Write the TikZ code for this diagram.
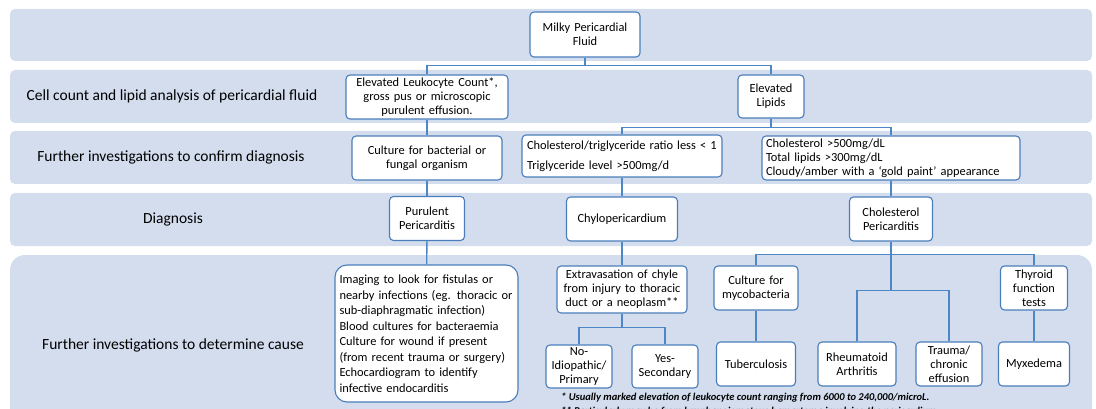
\documentclass[tikz,border=0pt]{standalone}
\usepackage{fontspec}
\setmainfont{Carlito}
\definecolor{band}{HTML}{D3DDEE}
\definecolor{boxblue}{HTML}{4A7EBB}
\definecolor{lineblue}{HTML}{4F86C6}
\tikzset{
  bandfill/.style={fill=band, draw=none},
  lbl/.style={font=\fontsize{15.5}{18}\selectfont, anchor=center},
  bx/.style={draw=boxblue, fill=white, rounded corners=4pt, line width=1.1pt,
     inner xsep=2pt, inner ysep=1pt, align=center,
     font=\fontsize{12.4}{14}\selectfont},
  conn/.style={draw=lineblue, line width=1.3pt},
  foot/.style={font=\fontsize{10.5}{12}\selectfont\bfseries\itshape, anchor=west, inner sep=0pt}
}
\begin{document}
\begin{tikzpicture}[x=1pt,y=-1pt]
\useasboundingbox (0,0) rectangle (1096,409);
% bands
\fill[bandfill, rounded corners=5pt] (10,9) rectangle (1092,61);
\fill[bandfill, rounded corners=5pt] (10,70) rectangle (1092,123);
\fill[bandfill, rounded corners=5pt] (10,131) rectangle (1092,184);
\fill[bandfill, rounded corners=5pt] (10,193) rectangle (1092,246);
\fill[bandfill, rounded corners=15pt] (10,255) rectangle (1092,430);
% left labels
\node[lbl] (l2) at (172,96) {Cell count and lipid analysis of pericardial fluid};
\node[lbl] (l3) at (171,157) {Further investigations to confirm diagnosis};
\node[lbl] (l4) at (173,219) {Diagnosis};
\node[lbl] (l5) at (173,345) {Further investigations to determine cause};
% nodes
\node[bx, minimum width=110pt, text width=106pt, minimum height=45pt] (milky) at (585,34.5) {Milky Pericardial\\Fluid};
\node[bx, minimum width=162pt, text width=158pt, minimum height=44pt] (leuk) at (427,97) {Elevated Leukocyte Count*,\\gross pus or microscopic\\purulent effusion.};
\node[bx, minimum width=66pt, text width=62pt, minimum height=43pt] (lipids) at (771,96.5) {Elevated\\Lipids};
\node[bx, minimum width=150pt, text width=146pt, minimum height=44pt] (culture) at (427,158) {Culture for bacterial or\\fungal organism};
\node[bx, minimum width=200pt, text width=190pt, inner xsep=5pt, minimum height=42pt, align=left, font=\fontsize{12.4}{20}\selectfont] (ratio) at (622,156) {Cholesterol/triglyceride ratio less < 1\\Triglyceride level >500mg/d};
\node[bx, minimum width=258pt, text width=250pt, inner xsep=4pt, minimum height=44pt, align=left, font=\fontsize{12.4}{14}\selectfont] (chol) at (891,158) {Cholesterol >500mg/dL\\Total lipids >300mg/dL\\Cloudy/amber with a ‘gold paint’ appearance};
\node[bx, minimum width=75pt, text width=71pt, minimum height=44pt] (purulent) at (427,218.5) {Purulent\\Pericarditis};
\node[bx, minimum width=111pt, text width=107pt, minimum height=44pt] (chylo) at (622,219) {Chylopericardium};
\node[bx, minimum width=83pt, text width=79pt, minimum height=44pt] (cholper) at (891,219) {Cholesterol\\Pericarditis};
\node[bx, rounded corners=12pt, minimum width=183pt, text width=174pt, inner xsep=4.5pt, minimum height=137pt, align=left, font=\fontsize{12.4}{15.5}\selectfont] (imaging) at (426.5,333.5) {Imaging to look for fistulas or\\nearby infections (eg. thoracic or\\sub-diaphragmatic infection)\\Blood cultures for bacteraemia\\Culture for wound if present\\(from recent trauma or surgery)\\Echocardiogram to identify\\infective endocarditis};
\node[bx, minimum width=130pt, text width=126pt, minimum height=47pt] (extrav) at (622,289.5) {Extravasation of chyle\\from injury to thoracic\\duct or a neoplasm**};
\node[bx, minimum width=84pt, text width=80pt, minimum height=44pt] (myco) at (756,288) {Culture for\\mycobacteria};
\node[bx, minimum width=67pt, text width=63pt, minimum height=44pt] (thyroid) at (1034,288) {Thyroid\\function\\tests};
\node[bx, minimum width=66pt, text width=62pt, minimum height=43pt] (noidio) at (579,366.5) {No-\\Idiopathic/\\Primary};
\node[bx, minimum width=66pt, text width=62pt, minimum height=43pt] (yes) at (665,366.5) {Yes-\\Secondary};
\node[bx, minimum width=79pt, text width=75pt, minimum height=44pt] (tb) at (756,364) {Tuberculosis};
\node[bx, minimum width=78pt, text width=74pt, minimum height=44pt] (rheum) at (857,364) {Rheumatoid\\Arthritis};
\node[bx, minimum width=66pt, text width=62pt, minimum height=44pt] (trauma) at (949,364) {Trauma/\\chronic\\effusion};
\node[bx, minimum width=71pt, text width=67pt, minimum height=44pt] (myx) at (1034,364) {Myxedema};
% footnotes
\node[foot] (f1) at (561,397.5) {* Usually marked elevation of leukocyte count ranging from 6000 to 240,000/microL.};
\node[foot] (f2) at (561,412) {** Particularly may be from lymphangiomatous hamartoma involving the pericardium};
% connectors
\draw[conn] (milky.south) -- ++(0,8) coordinate (b1);
\draw[conn] (leuk.north) |- (b1) -| (lipids.north);
\draw[conn] (leuk) -- (culture);
\draw[conn] (lipids.south) -- ++(0,9) coordinate (b2);
\draw[conn] (ratio.north) |- (b2) -| (chol.north);
\draw[conn] (culture) -- (purulent);
\draw[conn] (purulent) -- (imaging);
\draw[conn] (ratio) -- (chylo);
\draw[conn] (chol) -- (cholper);
\draw[conn] (chylo) -- (extrav);
\draw[conn] (extrav.south) -- ++(0,14) coordinate (b3);
\draw[conn] (noidio.north) |- (b3) -| (yes.north);
\path (cholper.south) ++(0,13) coordinate (b4);
\draw[conn] (cholper.south) -- ++(0,49) coordinate (b5);
\draw[conn] (myco.north) |- (b4) -| (thyroid.north);
\draw[conn] (rheum.north) |- (b5) -| (trauma.north);
\draw[conn] (myco) -- (tb);
\draw[conn] (thyroid) -- (myx);
\end{tikzpicture}
\end{document}
